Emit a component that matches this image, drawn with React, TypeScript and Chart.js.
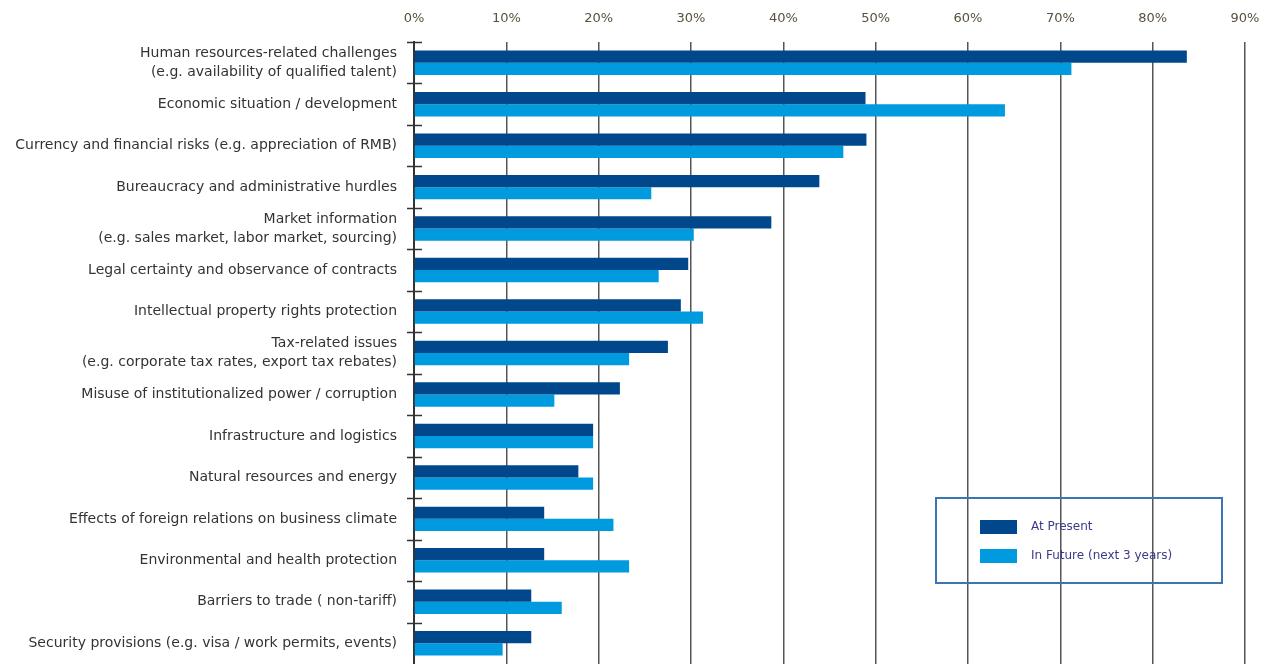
import React, { useEffect, useRef } from 'react';
import { Chart, registerables } from 'chart.js';
Chart.register(...registerables);

const categories: (string | string[])[] = [
  ['Human resources-related challenges', '(e.g. availability of qualified talent)'],
  'Economic situation / development',
  'Currency and financial risks (e.g. appreciation of RMB)',
  'Bureaucracy and administrative hurdles',
  ['Market information', '(e.g. sales market, labor market, sourcing)'],
  'Legal certainty and observance of contracts',
  'Intellectual property rights protection',
  ['Tax-related issues', '(e.g. corporate tax rates, export tax rebates)'],
  'Misuse of institutionalized power / corruption',
  'Infrastructure and logistics',
  'Natural resources and energy',
  'Effects of foreign relations on business climate',
  'Environmental and health protection',
  'Barriers to trade ( non-tariff)',
  'Security provisions (e.g. visa / work permits, events)',
];

const atPresent = [83.7, 48.9, 49.0, 43.9, 38.7, 29.7, 28.9, 27.5, 22.3, 19.4, 17.8, 14.1, 14.1, 12.7, 12.7];
const inFuture = [71.2, 64.0, 46.5, 25.7, 30.3, 26.5, 31.3, 23.3, 15.2, 19.4, 19.4, 21.6, 23.3, 16.0, 9.6];

const seriesNames = ['At Present', 'In Future (next 3 years)'];
const seriesColors = ['#00478c', '#009ade'];

const FONT = '"DejaVu Sans", sans-serif';

const crossTicks = {
  id: 'crossTicks',
  afterDatasetsDraw(chart: any) {
    const { ctx, chartArea, scales } = chart;
    const y = scales.y;
    const step = y.getPixelForValue(1) - y.getPixelForValue(0);
    ctx.save();
    ctx.strokeStyle = '#333333';
    ctx.lineWidth = 1.5;
    for (let i = 0; i < categories.length; i++) {
      const yy = Math.round(y.getPixelForValue(i) - step / 2) + 0.5;
      ctx.beginPath();
      ctx.moveTo(chartArea.left - 7, yy);
      ctx.lineTo(chartArea.left + 8, yy);
      ctx.stroke();
    }
    ctx.restore();
  },
};

const boxLegend = {
  id: 'boxLegend',
  afterDraw(chart: any) {
    const { ctx } = chart;
    ctx.save();
    ctx.strokeStyle = '#3d74b4';
    ctx.lineWidth = 2;
    ctx.strokeRect(936, 498, 286, 85);
    ctx.font = `12px ${FONT}`;
    ctx.textBaseline = 'middle';
    ctx.textAlign = 'left';
    seriesNames.forEach((name, i) => {
      const yy = 527 + i * 29;
      ctx.fillStyle = seriesColors[i];
      ctx.fillRect(980, yy - 7, 37, 14);
      ctx.fillStyle = '#3b3b8a';
      ctx.fillText(name, 1031, yy);
    });
    ctx.restore();
  },
};

export default function App() {
  const ref = useRef<HTMLCanvasElement>(null);
  useEffect(() => {
    if (!ref.current) return;
    const chart = new Chart(ref.current, {
      type: 'bar',
      data: {
        labels: categories,
        datasets: [
          {
            label: seriesNames[0],
            data: atPresent,
            backgroundColor: seriesColors[0],
            barPercentage: 1,
            categoryPercentage: 0.59,
          },
          {
            label: seriesNames[1],
            data: inFuture,
            backgroundColor: seriesColors[1],
            barPercentage: 1,
            categoryPercentage: 0.59,
          },
        ],
      },
      options: {
        indexAxis: 'y',
        animation: false,
        responsive: false,
        layout: { padding: { left: 0, top: 0, right: 32, bottom: 0 } },
        plugins: { legend: { display: false }, tooltip: { enabled: false } },
        scales: {
          x: {
            position: 'top',
            min: 0,
            max: 90,
            afterFit: (s: any) => { s.height = 42; s.paddingLeft = 0; s.paddingRight = 0; },
            ticks: {
              stepSize: 10,
              callback: (v: any) => `${v}%`,
              color: '#57513d',
              font: { family: FONT, size: 13 },
              padding: 16,
            },
            grid: { color: '#555555', lineWidth: 1.5, drawTicks: false },
            border: { display: false },
          },
          y: {
            afterFit: (s: any) => { s.width = 414; s.paddingTop = 0; s.paddingBottom = 0; },
            ticks: {
              autoSkip: false,
              color: '#333333',
              font: { family: FONT, size: 14, lineHeight: 1.33 },
              padding: 17,
            },
            grid: { drawOnChartArea: false, drawTicks: false },
            border: { display: true, color: '#333333', width: 2 },
          },
        },
      },
      plugins: [crossTicks, boxLegend],
    });
    return () => chart.destroy();
  }, []);
  return (
    <div style={{ position: 'absolute', left: 0, top: 0, width: 1277, height: 664, background: '#fff' }}>
      <canvas ref={ref} width={1277} height={664} style={{ display: 'block' }} />
    </div>
  );
}
